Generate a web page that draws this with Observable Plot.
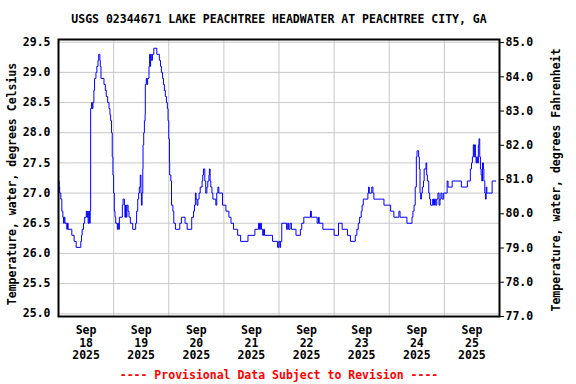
<!DOCTYPE html>
<html><head><meta charset="utf-8">
<script src="https://cdn.jsdelivr.net/npm/d3@7"></script>
<script src="https://cdn.jsdelivr.net/npm/@observablehq/plot@0.6"></script>
<style>body{margin:0;background:#fff} svg{display:block}</style>
</head><body><div id="chart"></div>
<script>
const title = "USGS 02344671 LAKE PEACHTREE HEADWATER AT PEACHTREE CITY, GA";
const caption = "---- Provisional Data Subject to Revision ----";
const yLabelLeft = "Temperature, water, degrees Celsius";
const yLabelRight = "Temperature, water, degrees Fahrenheit";
const startDate = "2025-09-18";
const dayLabels = ["Sep\n18\n2025","Sep\n19\n2025","Sep\n20\n2025","Sep\n21\n2025","Sep\n22\n2025","Sep\n23\n2025","Sep\n24\n2025","Sep\n25\n2025"];
const celsiusTicks = [25.0,25.5,26.0,26.5,27.0,27.5,28.0,28.5,29.0,29.5];
const fahrenheitTicks = [77,78,79,80,81,82,83,84,85];
const celsiusDomain = [24.955, 29.545];
const fahrenheitDomain = [77.0, 85.09];

// hours since Sep 18 00:00 and water temperature (deg C)
const hours = [0,0.3,0.5,1.0,1.45,1.9,2.2,2.5,2.8,3.6,3.9,4.2,5.8,6.8,7.7,9.7,10.0,10.3,10.9,11.4,12.1,12.4,12.7,12.9,13.2,13.5,13.8,14.0,14.4,14.7,15.0,15.4,15.7,16.3,16.7,17.2,17.5,18.0,18.2,18.5,19.8,20.4,20.8,21.4,22.0,22.4,22.7,23.1,23.4,23.7,24.0,24.3,24.6,24.9,25.6,25.9,26.2,26.5,27.8,28.1,28.7,28.9,29.2,29.5,29.8,30.3,30.7,31.3,32.3,33.6,34.0,34.5,34.9,35.2,35.6,35.9,36.1,36.4,36.7,36.8,37.1,37.4,37.7,37.8,38.2,38.5,38.8,39.4,39.7,39.9,40.1,40.4,40.9,41.5,42.8,43.9,44.4,44.8,45.3,45.7,46.1,46.5,47.0,47.4,47.7,48.0,48.3,48.4,48.9,49.2,49.8,50.2,50.9,52.8,53.5,55.1,56.0,58.0,58.8,59.2,59.6,59.9,60.3,60.7,61.2,61.7,62.5,62.8,63.1,63.7,64.1,64.6,65.0,65.5,65.7,66.0,66.3,66.8,67.2,68.5,68.9,69.4,69.8,71.4,72.9,74.2,75.1,76.2,78.0,79.3,82.5,85.5,87.1,87.5,88.0,88.4,88.9,89.3,89.7,93.2,95.4,95.9,96.4,96.7,97.2,99.3,99.8,100.2,100.8,101.4,103.4,105.3,105.9,106.8,109.7,110.1,112.6,113.2,113.5,115.1,120.0,121.9,123.5,125.8,127.1,129.2,129.9,130.5,131.1,131.8,132.2,132.7,134.7,135.0,135.3,136.4,136.9,137.3,141.7,144.6,146.0,148.2,148.7,151.7,153.9,154.3,154.8,155.3,155.8,156.1,156.8,157.1,157.4,157.7,158.0,158.4,158.9,159.2,160.0,160.3,160.6,161.2,161.6,162.0,162.9,163.3,163.7,164.2,164.7,165.2,165.7,166.1,166.5,167.0,167.7,169.2,169.6,171.4,175.4,178.0,179.3,179.8,180.2,180.6,180.9,181.2,181.5,181.8,182.1,182.4,182.8,183.1,183.4,183.7,184.0,184.3,184.6,185.0,185.2,185.6,185.9,186.2,186.5,188.8,190.5];
const tempC = [27.2,27.1,27.0,26.9,26.7,26.6,26.5,26.6,26.5,26.4,26.5,26.4,26.3,26.2,26.1,26.2,26.3,26.4,26.5,26.6,26.7,26.6,26.7,26.5,26.7,26.5,26.7,28.4,28.5,28.4,28.5,28.7,28.9,29.0,29.1,29.2,29.3,29.2,29.1,28.9,28.8,28.7,28.6,28.5,28.4,28.3,28.2,28.0,27.6,27.3,27.0,26.7,26.6,26.5,26.4,26.5,26.4,26.6,26.8,26.9,26.8,26.6,26.8,26.6,26.8,26.7,26.6,26.5,26.4,26.5,26.7,26.9,27.0,27.1,27.3,27.0,26.8,27.0,27.4,27.8,28.0,28.2,28.3,28.8,28.9,28.8,28.9,29.1,29.3,29.1,29.3,29.2,29.3,29.4,29.3,29.2,29.1,29.0,28.9,28.8,28.7,28.6,28.5,28.4,28.2,27.9,27.5,27.3,27.2,26.8,26.7,26.5,26.4,26.5,26.6,26.5,26.4,26.6,26.7,26.8,27.0,26.9,26.8,26.9,27.0,27.1,27.2,27.3,27.4,27.2,27.0,27.1,27.2,27.3,27.4,27.2,27.1,27.0,26.9,26.8,27.0,27.1,27.0,26.8,26.7,26.6,26.5,26.4,26.3,26.2,26.3,26.4,26.5,26.4,26.5,26.4,26.3,26.4,26.3,26.2,26.1,26.2,26.1,26.2,26.5,26.4,26.5,26.4,26.5,26.4,26.3,26.4,26.5,26.6,26.7,26.6,26.5,26.6,26.5,26.4,26.3,26.5,26.4,26.3,26.2,26.3,26.4,26.5,26.6,26.7,26.8,26.9,27.0,27.1,27.0,27.1,27.0,26.9,26.8,26.7,26.6,26.7,26.6,26.5,26.6,26.7,26.8,27.1,27.6,27.7,27.6,27.4,27.0,26.9,27.0,27.1,27.2,27.4,27.5,27.3,27.2,27.0,26.9,26.8,26.9,26.8,26.9,26.8,26.9,27.0,26.8,26.9,27.0,26.9,27.0,27.2,27.1,27.2,27.1,27.2,27.4,27.5,27.6,27.8,27.6,27.8,27.6,27.5,27.6,27.5,27.8,27.9,27.6,27.4,27.3,27.2,27.5,27.4,27.2,27.0,26.9,27.1,27.0,27.2,27.2];

const t0 = Date.parse(startDate + "T00:00:00Z");
const DAY = 864e5;
const data = hours.map((h, i) => ({date: new Date(t0 + h * 36e5), temp: tempC[i]}));
const dayStarts = d3.range(dayLabels.length + 1).map(i => new Date(t0 + i * DAY));
const noons = dayLabels.map((_, i) => new Date(t0 + (i + 0.5) * DAY));
const f2c = d3.scaleLinear().domain(fahrenheitDomain).range(celsiusDomain);

const font = "'DejaVu Sans Mono', monospace";
const chart = Plot.plot({
  width: 576, height: 384,
  marginLeft: 58, marginRight: 77, marginTop: 39, marginBottom: 68,
  style: {fontFamily: font, fontSize: "11.5px", fontWeight: "bold", color: "black", background: "white"},
  x: {type: "utc", domain: [dayStarts[0], dayStarts[dayStarts.length - 1]]},
  y: {domain: celsiusDomain},
  marks: [
    Plot.gridY(celsiusTicks, {stroke: "#c8c8c8", strokeOpacity: 1, strokeWidth: 1}),
    Plot.gridX(dayStarts.slice(1, -1), {stroke: "#c8c8c8", strokeOpacity: 1, strokeWidth: 1}),
    Plot.line(data, {x: "date", y: "temp", stroke: "#0000ff", strokeWidth: 1, curve: "step-after"}),
    Plot.frame({stroke: "black", strokeWidth: 2}),
    Plot.axisY(celsiusTicks, {anchor: "left", tickSize: 0, tickPadding: 8, tickFormat: d => d.toFixed(1), label: null}),
    Plot.axisY(fahrenheitTicks.map(f => f2c(f)), {anchor: "right", tickSize: 4, tickPadding: 2,
      tickFormat: c => f2c.invert(c).toFixed(1), label: null}),
    Plot.axisX(noons, {anchor: "bottom", tickSize: 0, tickPadding: 8, lineHeight: 1.12,
      tickFormat: d => dayLabels[Math.floor((d - t0) / DAY)], label: null}),
    Plot.text([title], {frameAnchor: "top", dy: -20, textAnchor: "middle", lineAnchor: "middle"}),
    Plot.text([caption], {frameAnchor: "bottom", dy: 59, textAnchor: "middle", lineAnchor: "middle", fill: "red"}),
    Plot.text([yLabelLeft], {frameAnchor: "left", dx: -46, dy: 6, rotate: -90, textAnchor: "middle", lineAnchor: "middle"}),
    Plot.text([yLabelRight], {frameAnchor: "right", dx: 57, dy: 2, rotate: -90, textAnchor: "middle", lineAnchor: "middle"})
  ]
});
document.getElementById("chart").append(chart);
</script>
</body></html>
